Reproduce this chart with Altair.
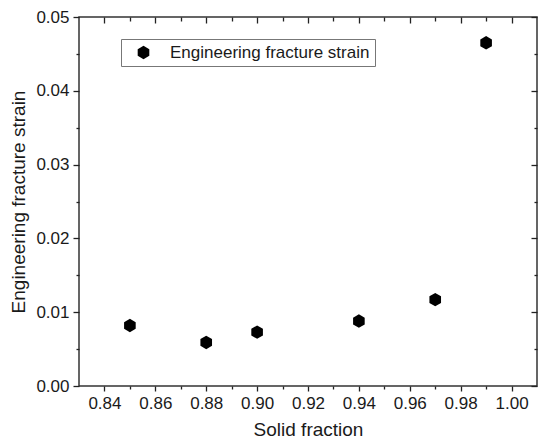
import altair as alt
import pandas as pd

# Data
solid_fraction = [0.85, 0.88, 0.90, 0.94, 0.97, 0.99]
fracture_strain = [0.0082, 0.0059, 0.0073, 0.0088, 0.0117, 0.0465]
series_name = ["Engineering fracture strain"] * len(solid_fraction)

x_major = [0.84, 0.86, 0.88, 0.90, 0.92, 0.94, 0.96, 0.98, 1.00]
x_minor = [0.85, 0.87, 0.89, 0.91, 0.93, 0.95, 0.97, 0.99]
y_major = [0.00, 0.01, 0.02, 0.03, 0.04, 0.05]
y_minor = [0.005, 0.015, 0.025, 0.035, 0.045]

df = pd.DataFrame({"x": solid_fraction, "y": fracture_strain, "series": series_name})

HEX = "M0,-1L0.866,-0.5L0.866,0.5L0,1L-0.866,0.5L-0.866,-0.5Z"
W, H = 458, 369
FONT = "Liberation Sans"
TXT = "#1a1a1a"
TICK = "#222222"

x_scale = alt.Scale(domain=[0.83, 1.01], nice=False, zero=False)
y_scale = alt.Scale(domain=[0.0, 0.05], nice=False, zero=False)


def ax(orient, values, size, offset=0, labels=False, fmt=".2f", title=None, **kw):
    return alt.Axis(
        orient=orient, values=values, tickSize=size, offset=offset, labels=labels,
        format=fmt, title=title, domain=False, grid=False, tickColor=TICK,
        tickWidth=1.3, **kw,
    )


main = alt.Chart(df).mark_point(filled=True, size=180, color="black", opacity=1).encode(
    x=alt.X("x:Q", scale=x_scale,
            axis=ax("bottom", x_major, 5, labels=True, title="Solid fraction",
                    labelPadding=4, titlePadding=9)),
    y=alt.Y("y:Q", scale=y_scale,
            axis=ax("left", y_major, 6, labels=True, title="Engineering fracture strain",
                    labelPadding=4, titlePadding=7)),
    shape=alt.Shape("series:N", scale=alt.Scale(range=[HEX]),
                    legend=alt.Legend(
                        title=None, orient="none", legendX=42, legendY=22,
                        padding=5, strokeColor="#777777", fillColor="white",
                        symbolOffset=9, labelOffset=18, symbolSize=180,
                        symbolType=HEX, symbolFillColor="black",
                        symbolStrokeWidth=0, labelFont=FONT, labelFontSize=17,
                        labelLimit=400, labelColor=TXT, cornerRadius=0)),
)

minor_out = alt.Chart(df).mark_point(opacity=0).encode(
    x=alt.X("x:Q", scale=x_scale, axis=ax("bottom", x_minor, 3)),
    y=alt.Y("y:Q", scale=y_scale, axis=ax("left", y_minor, 3)),
)

major_in = alt.Chart(df).mark_point(opacity=0).encode(
    x=alt.X("x:Q", scale=x_scale, axis=ax("bottom", x_major, 6, offset=-H)),
    y=alt.Y("y:Q", scale=y_scale, axis=ax("left", y_major, 6, offset=-W)),
)

minor_in = alt.Chart(df).mark_point(opacity=0).encode(
    x=alt.X("x:Q", scale=x_scale, axis=ax("bottom", x_minor, 4, offset=-H)),
    y=alt.Y("y:Q", scale=y_scale, axis=ax("left", y_minor, 3, offset=-W)),
)

chart = (
    alt.layer(main, minor_out, major_in, minor_in)
    .resolve_axis(x="independent", y="independent")
    .properties(
        width=W, height=H,
        autosize=alt.AutoSizeParams(type="none"),
        padding={"left": 79, "top": 17, "right": 1, "bottom": 55},
        background="white",
    )
    .configure_view(stroke="#333333", strokeWidth=1.5)
    .configure_axis(
        labelFont=FONT, labelFontSize=17, labelColor=TXT,
        titleFont=FONT, titleFontSize=19, titleFontWeight="normal", titleColor=TXT,
    )
)

chart.save("out.html", embed_options={"renderer": "svg", "actions": False})
